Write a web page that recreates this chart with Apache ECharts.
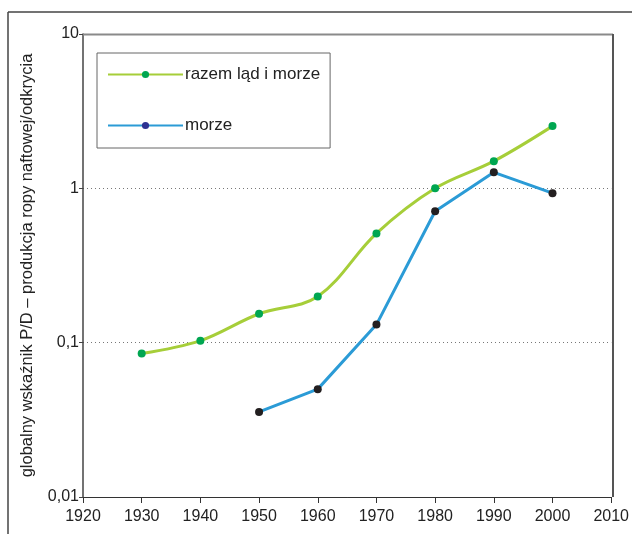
<!DOCTYPE html>
<html><head><meta charset="utf-8">
<script src="https://cdn.jsdelivr.net/npm/echarts@6/dist/echarts.min.js"></script>
<style>html,body{margin:0;padding:0;background:#fff}#c{width:632px;height:534px}</style>
</head><body><div id="c"></div>
<script>
const years = [1930, 1940, 1950, 1960, 1970, 1980, 1990, 2000];
const total = [0.085, 0.103, 0.154, 0.199, 0.51, 1.0, 1.50, 2.53];
const seaYears = [1950, 1960, 1970, 1980, 1990, 2000];
const sea = [0.0356, 0.050, 0.131, 0.71, 1.27, 0.93];
const yTicks = ['0,01', '0,1', '1', '10'];
const names = ['razem ląd i morze', 'morze'];

const FONT = '"Liberation Sans", Arial, sans-serif';
const chart = echarts.init(document.getElementById('c'), null, {renderer: 'canvas'});
chart.setOption({
  animation: false,
  grid: {left: 83, right: 19, top: 34, bottom: 37},
  graphic: [
    {type: 'line', shape: {x1: 8, y1: 12, x2: 632, y2: 12}, style: {stroke: '#444', lineWidth: 1.5}},
    {type: 'line', shape: {x1: 8, y1: 12, x2: 8, y2: 534}, style: {stroke: '#444', lineWidth: 1.5}},
    {type: 'line', shape: {x1: 83, y1: 34.5, x2: 613, y2: 34.5}, style: {stroke: '#8a8a8a', lineWidth: 2}, z: 10},
    {type: 'line', shape: {x1: 613, y1: 34, x2: 613, y2: 497}, style: {stroke: '#555', lineWidth: 2}, z: 10}
  ],
  legend: {
    orient: 'vertical', left: 97, top: 53,
    data: [
      {name: names[0], itemStyle: {color: '#00a651'}},
      {name: names[1], itemStyle: {color: '#2e3192'}}
    ],
    itemWidth: 75, itemHeight: 9, itemGap: 34,
    padding: [13, 10, 14, 10],
    borderColor: '#666', borderWidth: 1,
    textStyle: {fontFamily: FONT, fontSize: 17, color: '#222', padding: [0, 0, 0, -3]}
  },
  xAxis: {
    type: 'value', min: 1920, max: 2010, interval: 10,
    axisLine: {show: true, lineStyle: {color: '#333', width: 1}},
    axisTick: {show: true, length: 6, lineStyle: {color: '#333'}},
    axisLabel: {fontFamily: FONT, fontSize: 16, color: '#222', margin: 12, formatter: v => String(v)},
    splitLine: {show: false}
  },
  yAxis: {
    type: 'log', logBase: 10, min: 0.01, max: 10,
    name: 'globalny wskaźnik P/D – produkcja ropy naftowej/odkrycia',
    nameLocation: 'middle', nameRotate: 90, nameGap: 47,
    nameTextStyle: {fontFamily: FONT, fontSize: 16.5, color: '#222'},
    axisLine: {show: true, lineStyle: {color: '#444', width: 1.5}},
    axisTick: {show: true, length: 4, lineStyle: {color: '#444'}},
    axisLabel: {fontFamily: FONT, fontSize: 16, color: '#222', margin: 4,
      formatter: v => { const i = Math.round(Math.log10(v)) + 2; return yTicks[i] ?? ''; }},
    splitLine: {show: true, lineStyle: {color: '#777', type: [1, 3], width: 1}}
  },
  series: [
    {
      name: names[0], type: 'line', smooth: 0.35,
      data: years.map((y, i) => [y, total[i]]),
      symbol: 'circle', symbolSize: 8,
      lineStyle: {color: '#a6ce39', width: 3},
      itemStyle: {color: '#00a651'}
    },
    {
      name: names[1], type: 'line',
      data: seaYears.map((y, i) => [y, sea[i]]),
      symbol: 'circle', symbolSize: 8,
      lineStyle: {color: '#2b9bd6', width: 3},
      itemStyle: {color: '#231f20'}
    }
  ]
});
</script></body></html>
